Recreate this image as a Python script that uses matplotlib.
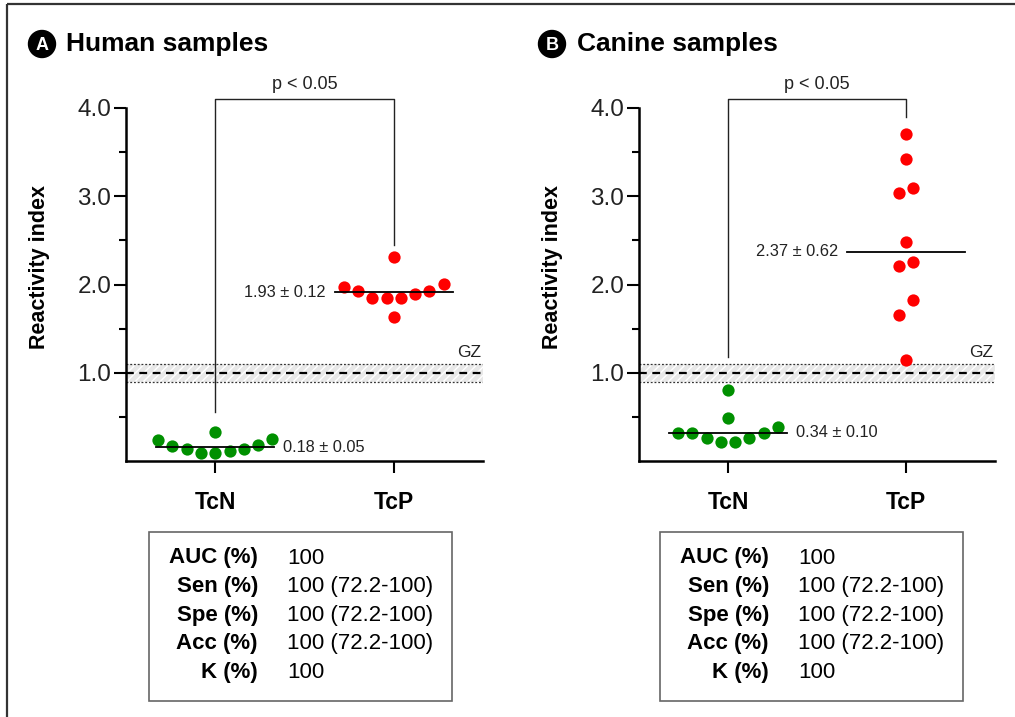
import matplotlib.pyplot as plt
import numpy as np

plt.rcParams['font.family'] = ['Liberation Sans', 'DejaVu Sans']

# data
groups = ['TcN', 'TcP']
human_tcn = [0.24, 0.17, 0.14, 0.11, 0.09, 0.33, 0.09, 0.14, 0.18, 0.25]
human_tcp = [2.01, 1.93, 1.89, 1.85, 2.31, 1.85, 1.63, 1.85, 1.93, 1.97]
canine_tcn = [0.32, 0.32, 0.26, 0.21, 0.81, 0.49, 0.21, 0.26, 0.32, 0.38]
canine_tcp = [3.70, 3.42, 3.04, 3.09, 2.48, 2.21, 2.26, 1.82, 1.65, 1.15]
human_labels = ['0.18 ± 0.05', '1.93 ± 0.12']
canine_labels = ['0.34 ± 0.10', '2.37 ± 0.62']
gz_low, gz_mid, gz_high = 0.9, 1.0, 1.1
table_rows = ['AUC (%)', 'Sen (%)', 'Spe (%)', 'Acc (%)', 'K (%)']
table_vals = ['100', '100 (72.2-100)', '100 (72.2-100)', '100 (72.2-100)', '100']
p_text = 'p < 0.05'

GREEN = '#009000'
RED = '#ff0000'
W, H = 1015, 717


def swarm_offsets(vals, gap=0.2, step=0.08):
    # group close values into rows, spread each row from the centre outwards
    order = np.argsort(vals, kind='stable')
    offs = np.zeros(len(vals))
    rows, cur = [], [order[0]]
    for i in order[1:]:
        if vals[i] - vals[cur[0]] <= gap:
            cur.append(i)
        else:
            rows.append(cur)
            cur = [i]
    rows.append(cur)
    for row in rows:
        n = len(row)
        slots = np.arange(n) - (n - 1) / 2.0
        slots = sorted(slots, key=lambda s: (abs(s), s))
        for idx, s in zip(row, slots):
            offs[idx] = s * step
    return offs


def panel(ax, tcn, tcp, labels, bracket):
    ax.set_facecolor('none')
    ax.set_xlim(-0.5, 1.5)
    ax.set_ylim(0, 4.0)
    for s in ['top', 'right']:
        ax.spines[s].set_visible(False)
    for s in ['left', 'bottom']:
        ax.spines[s].set_linewidth(1.8)
    ax.set_yticks([1.0, 2.0, 3.0, 4.0])
    ax.set_yticklabels(['1.0', '2.0', '3.0', '4.0'], fontsize=17.5, color='#222222')
    ax.set_yticks([0.5, 1.5, 2.5, 3.5], minor=True)
    ax.tick_params(axis='y', which='major', length=8.5, width=1.5, pad=2)
    ax.tick_params(axis='y', which='minor', length=5, width=1.5)
    ax.set_xticks([0, 1])
    ax.set_xticklabels(groups, fontsize=16.5, fontweight='bold')
    ax.tick_params(axis='x', length=8.5, width=1.5, pad=13)
    ax.set_ylabel('Reactivity index', fontsize=15.5, fontweight='bold')
    ax.yaxis.set_label_coords(-0.213, 0.55)

    # grey zone
    ax.axhspan(gz_low, gz_high, facecolor='#e8e8e8', edgecolor='white', hatch='////', lw=0, zorder=0)
    ax.axhline(gz_low, color='#333333', ls=(0, (1.5, 1.5)), lw=0.9, zorder=1)
    ax.axhline(gz_high, color='#333333', ls=(0, (1.5, 1.5)), lw=0.9, zorder=1)
    ax.axhline(gz_mid, color='black', ls=(0, (3.5, 2.5)), lw=1.6, zorder=1)
    ax.text(1.49, gz_high + 0.04, 'GZ', ha='right', va='bottom', fontsize=12.5, color='#222222')

    for k, (vals, col) in enumerate([(tcn, GREEN), (tcp, RED)]):
        vals = np.asarray(vals)
        xs = k + swarm_offsets(vals)
        ax.scatter(xs, vals, s=78, color=col, lw=0, zorder=3, clip_on=False)
        med = np.median(vals)
        ax.plot([k - 0.33, k + 0.33], [med, med], color='black', lw=1.3, zorder=4)
        if k == 0:
            ax.text(k + 0.38, med, labels[k], ha='left', va='center', fontsize=11.8, color='#222222')
        else:
            ax.text(k - 0.38, med, labels[k], ha='right', va='center', fontsize=11.8, color='#222222')

    left_end, right_end = bracket
    ax.plot([0, 0, 1, 1], [left_end, 4.1, 4.1, right_end], color='#222222', lw=1.0,
            clip_on=False, zorder=2)
    ax.text(0.5, 4.27, p_text, ha='center', va='center', fontsize=13, color='#222222')


fig = plt.figure(figsize=(W / 100, H / 100), dpi=100)
over = fig.add_axes([0, 0, 1, 1])
over.set_xlim(0, W)
over.set_ylim(H, 0)
over.axis('off')

# outer frame
over.add_patch(plt.Rectangle((7, 4), 1030, 740, fill=False, ec='#333333', lw=1.6))

for cx, letter, tx, title in [(42, 'A', 66, 'Human samples'), (552, 'B', 577, 'Canine samples')]:
    over.add_patch(plt.Circle((cx, 44), 13.5, color='black'))
    over.text(cx, 45, letter, ha='center', va='center', fontsize=13, fontweight='bold', color='white')
    over.text(tx, 44, title, ha='left', va='center', fontsize=19, fontweight='bold')

for bx in [149, 660]:
    over.add_patch(plt.Rectangle((bx, 532), 303, 169, fill=False, ec='#666666', lw=1.2))
    for i, (r, v) in enumerate(zip(table_rows, table_vals)):
        y = 558 + i * 28.6
        over.text(bx + 109, y, r, ha='right', va='center', fontsize=16, fontweight='bold')
        over.text(bx + 138, y, v, ha='left', va='center', fontsize=16)

ax1 = fig.add_axes([126 / W, 1 - 461 / H, 357 / W, 353 / H])
ax2 = fig.add_axes([639 / W, 1 - 461 / H, 356 / W, 353 / H])
panel(ax1, human_tcn, human_tcp, human_labels, (0.56, 2.45))
panel(ax2, canine_tcn, canine_tcp, canine_labels, (1.18, 3.90))

fig.savefig('out.png', dpi=100)
